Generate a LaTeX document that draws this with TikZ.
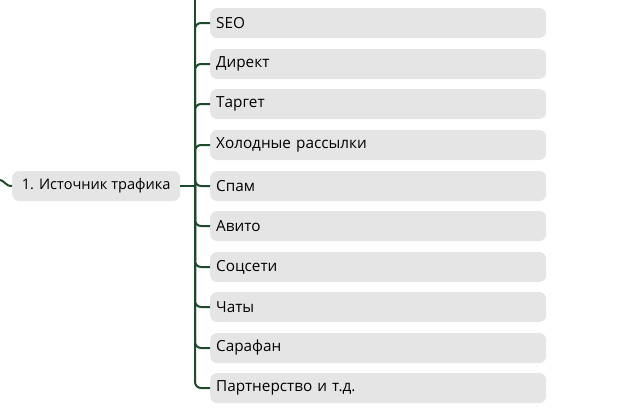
\documentclass[tikz,border=0pt]{standalone}
\usepackage{fontspec}
\setmainfont{Open Sans}
\definecolor{linegreen}{HTML}{1E4A2C}
\definecolor{boxgrey}{HTML}{E5E5E5}
\begin{document}
\begin{tikzpicture}[x=1pt,y=-1pt,
  itembox/.style={fill=boxgrey, rounded corners=7pt, minimum height=30pt,
    text width=324pt, align=left, inner xsep=6pt, inner ysep=0pt, anchor=west,
    font=\fontsize{15.3}{18}\selectfont},
  srcbox/.style={fill=boxgrey, rounded corners=7pt, minimum height=30pt,
    minimum width=168pt, inner xsep=7pt, inner ysep=0pt, anchor=west,
    font=\fontsize{14.6}{18}\selectfont},
  conn/.style={draw=linegreen, line width=2pt, rounded corners=6pt}]
\useasboundingbox (0,0) rectangle (640,410);
\node[srcbox] (src) at (12,186) {1. Источник трафика};
\coordinate (j) at (195,186);
\coordinate (top) at (195,-2);
\coordinate (in) at (-2,180);
\foreach \n/\y/\t in {a/23/SEO, b/64/Директ, c/104/Таргет, d/145/Холодные рассылки,
  e/186/Спам, f/226/Авито, g/267/Соцсети, h/307/Чаты, i/348/Сарафан, k/388/Партнерство и т.д.}{
  \node[itembox] (\n) at (210,\y) {\t};
}
\draw[conn] (in) .. controls (6,180) and (4,186) .. (src.west);
\draw[conn] (src.east) -- (j);
\draw[conn] (j) -- (top);
\foreach \n in {a,b,c,d,e,f,g,h,i,k}{
  \draw[conn] (j) |- (\n.west);
}
\end{tikzpicture}
\end{document}
